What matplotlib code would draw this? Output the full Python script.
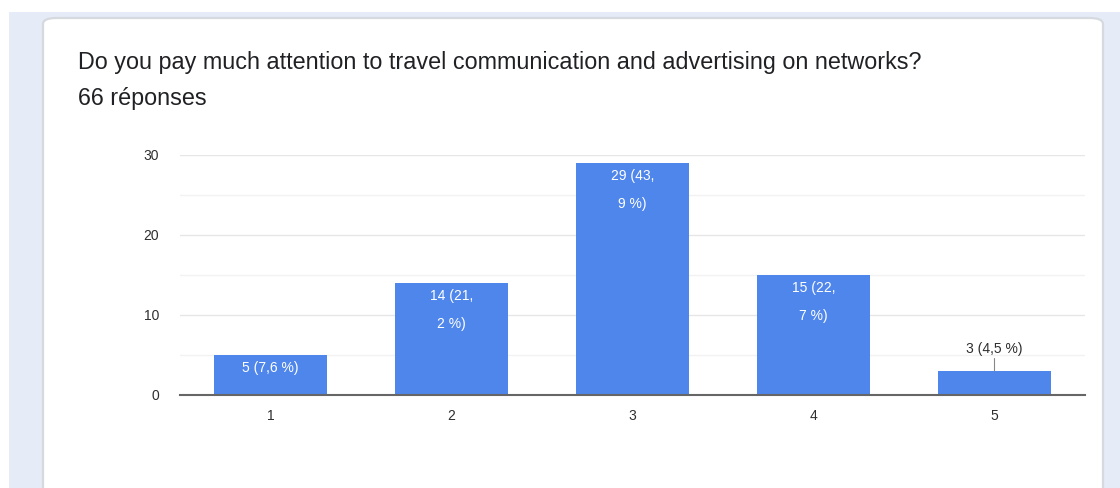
import matplotlib.pyplot as plt
from matplotlib.patches import FancyBboxPatch, Rectangle
from matplotlib.ticker import MultipleLocator

plt.rcParams['font.family'] = ['Liberation Sans', 'DejaVu Sans']

title = "Do you pay much attention to travel communication and advertising on networks?"
subtitle = "66 réponses"
categories = ["1", "2", "3", "4", "5"]
counts = [5, 14, 29, 15, 3]
labels = ["5 (7,6 %)", "14 (21,\n2 %)", "29 (43,\n9 %)", "15 (22,\n7 %)", "3 (4,5 %)"]

W, H = 1120, 488
fig = plt.figure(figsize=(W / 100, H / 100), dpi=100)
fig.patch.set_facecolor("white")

def px(x, y):
    # pixel coords (origin top-left) -> figure fraction
    return x / W, 1 - y / H

# page background and the card, kept behind the axes
fig.patches.append(Rectangle(px(9, H), (W - 9) / W, (H - 12) / H,
                             transform=fig.transFigure, facecolor="#e5ebf7",
                             edgecolor="none", zorder=-3))
fig.patches.append(FancyBboxPatch(px(43, H + 20), (1103 - 43) / W, (H + 20 - 18) / H,
                                  boxstyle="round,pad=0,rounding_size=0.012",
                                  transform=fig.transFigure, facecolor="white",
                                  edgecolor="#d6d9de", linewidth=1.6, zorder=-2))

fig.text(*px(78, 62), title, fontsize=16.8, color="#202124", va="center", ha="left")
fig.text(*px(78, 99), subtitle, fontsize=16.8, color="#202124", va="center", ha="left")

ax = fig.add_axes([180 / W, (H - 395) / H, 905 / W, 240 / H])
ax.set_facecolor("none")
x = list(range(1, len(categories) + 1))
bars = ax.bar(x, counts, width=0.62, color="#4f86ec", zorder=3)

ax.set_xlim(0.5, len(categories) + 0.5)
ax.set_ylim(0, 30)
ax.yaxis.set_major_locator(MultipleLocator(10))
ax.yaxis.set_minor_locator(MultipleLocator(5))
ax.grid(axis="y", which="major", color="#e6e6e6", linewidth=1, zorder=0)
ax.grid(axis="y", which="minor", color="#f2f2f2", linewidth=1, zorder=0)
ax.set_xticks(x)
ax.set_xticklabels(categories)
ax.tick_params(axis="both", which="both", length=0, labelsize=10, colors="#2e2e2e")
ax.tick_params(axis="y", pad=15)
ax.tick_params(axis="x", pad=10)
for s in ["top", "right", "left"]:
    ax.spines[s].set_visible(False)
ax.spines["bottom"].set_color("#666666")
ax.spines["bottom"].set_linewidth(1.5)
ax.spines["bottom"].set_zorder(4)

for xi, c, lab in zip(x, counts, labels):
    if c >= 5:
        ax.annotate(lab, (xi, c), xytext=(0, -4), textcoords="offset points",
                    ha="center", va="top", fontsize=10, color="white",
                    linespacing=2.3, zorder=5)
    else:
        ax.annotate(lab, (xi, c), xytext=(0, 11), textcoords="offset points",
                    ha="center", va="bottom", fontsize=10, color="#2e2e2e",
                    arrowprops=dict(arrowstyle="-", color="#888888", lw=0.8,
                                    shrinkA=0, shrinkB=0),
                    zorder=5)

fig.savefig("out.png", dpi=100)
